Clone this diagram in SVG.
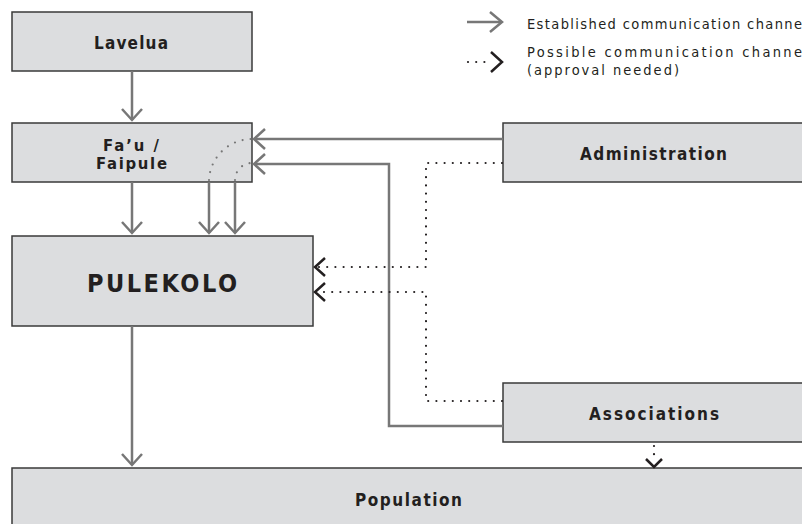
<svg xmlns="http://www.w3.org/2000/svg" width="802" height="524" viewBox="0 0 802 524">
<style>
.box{fill:#dcdddf;stroke:#3a3a3a;stroke-width:1.5}
.lbl{font-family:"Liberation Sans Narrow","DejaVu Sans Condensed","Liberation Sans",sans-serif;font-weight:bold;fill:#231f20;text-anchor:middle}
.leg{font-family:"Liberation Sans Narrow","DejaVu Sans Condensed","Liberation Sans",sans-serif;fill:#231f20;font-size:14.5px}
.solid{fill:none;stroke:#777;stroke-width:2.5}
.head{fill:none;stroke:#777;stroke-width:2.5;stroke-linejoin:miter}
.dot{fill:none;stroke:#231f20;stroke-width:2.2;stroke-linecap:round;stroke-dasharray:0 8.2}
.gdot{fill:none;stroke:#777;stroke-width:2.2;stroke-linecap:round;stroke-dasharray:0 8}
.dhead{fill:none;stroke:#231f20;stroke-width:2.5}
</style>
<g id="lavelua"><rect class="box" x="12" y="12" width="240" height="59"/><text class="lbl" x="131" y="49" font-size="17" textLength="74" lengthAdjust="spacing">Lavelua</text></g>
<g id="faipule"><rect class="box" x="12" y="123" width="240" height="59"/><text class="lbl" x="131" y="151" font-size="16.5" textLength="56" lengthAdjust="spacing">Fa’u /</text><text class="lbl" x="131.5" y="169" font-size="16.5" textLength="71" lengthAdjust="spacing">Faipule</text></g>
<g id="pulekolo"><rect class="box" x="12" y="236" width="301" height="90"/><text class="lbl" x="162" y="292" font-size="25" textLength="150" lengthAdjust="spacing">PULEKOLO</text></g>
<g id="administration"><rect class="box" x="503" y="123" width="305" height="59"/><text class="lbl" x="653.5" y="160" font-size="17" textLength="147" lengthAdjust="spacing">Administration</text></g>
<g id="associations"><rect class="box" x="503" y="383" width="305" height="59"/><text class="lbl" x="654" y="420" font-size="17" textLength="130" lengthAdjust="spacing">Associations</text></g>
<g id="population"><rect class="box" x="12" y="468" width="796" height="70"/><text class="lbl" x="408.5" y="506" font-size="17" textLength="107" lengthAdjust="spacing">Population</text></g>
<g id="legend">
<line class="solid" x1="467" y1="22" x2="501" y2="22"/><polyline class="head" points="490,12 502,22 490,32"/>
<line class="dot" x1="468" y1="62" x2="492" y2="62"/><polyline class="dhead" points="491,52 502,62 491,72"/>
<text class="leg" x="527" y="29" textLength="275" lengthAdjust="spacing">Established communication channe</text>
<text class="leg" x="527" y="57" textLength="275" lengthAdjust="spacing">Possible communication channe</text>
<text class="leg" x="527" y="75" textLength="152" lengthAdjust="spacing">(approval needed)</text>
</g>
<g id="connectors">
<line class="solid" x1="132" y1="71" x2="132" y2="120"/><polyline class="head" points="122,109 132,120 142,109"/>
<line class="solid" x1="132" y1="182" x2="132" y2="233"/><polyline class="head" points="122,222 132,233 142,222"/>
<line class="solid" x1="209" y1="182" x2="209" y2="233"/><polyline class="head" points="199,222 209,233 219,222"/>
<line class="solid" x1="235" y1="182" x2="235" y2="233"/><polyline class="head" points="225,222 235,233 245,222"/>
<line class="solid" x1="132" y1="326" x2="132" y2="465"/><polyline class="head" points="122,454 132,465 142,454"/>
<line class="solid" x1="503" y1="139" x2="255" y2="139"/><polyline class="head" points="265,129 254,139 265,149"/>
<polyline class="solid" points="503,426 389,426 389,164 255,164"/><polyline class="head" points="265,154 254,164 265,174"/>
<path class="gdot" d="M209,180 A43,43 0 0 1 252,139"/>
<path class="gdot" d="M235,180 A17,17 0 0 1 252,163"/>
<polyline class="dot" points="502,163 426,163 426,267 318,267"/><polyline class="dhead" points="325,258 315,267 325,276"/>
<polyline class="dot" points="502,401 426,401 426,292 318,292"/><polyline class="dhead" points="325,283 315,292 325,301"/>
<line class="dot" x1="654" y1="446" x2="654" y2="458"/><polyline class="dhead" points="646,459 654,467 662,459"/>
</g>
</svg>
